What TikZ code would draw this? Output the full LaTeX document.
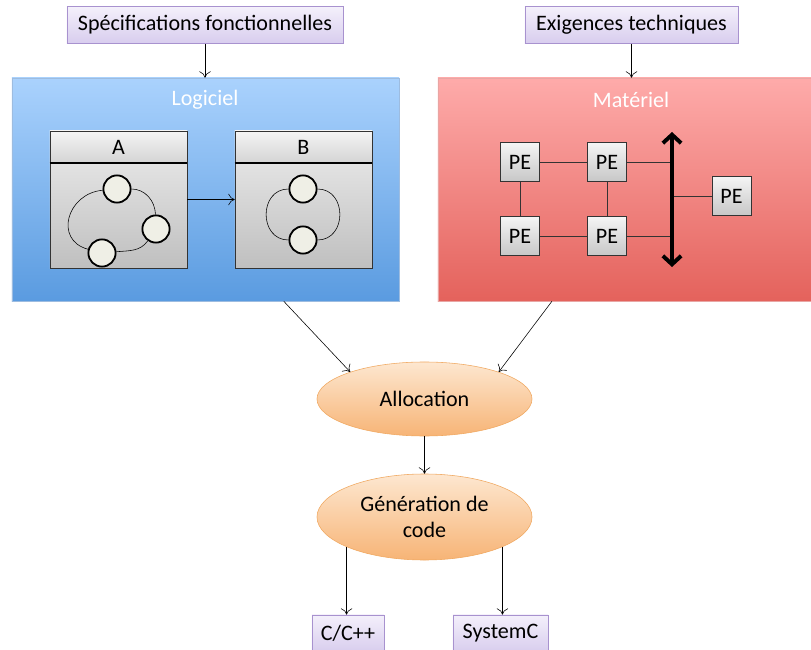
\documentclass[tikz,border=0pt]{standalone}
\usepackage{fontspec}
\setmainfont{Carlito}
\usetikzlibrary{arrows.meta, shapes.geometric}

\definecolor{specfill1}{HTML}{F4F0FB}
\definecolor{specfill2}{HTML}{D8CDEE}
\definecolor{specline}{HTML}{A892CF}
\definecolor{logtop}{HTML}{AAD2FD}
\definecolor{logbot}{HTML}{5A9BE0}
\definecolor{logline}{HTML}{9DBCE0}
\definecolor{mattop}{HTML}{FEABAA}
\definecolor{matbot}{HTML}{E4625C}
\definecolor{matline}{HTML}{E8A6A4}
\definecolor{ovaltop}{HTML}{FDE7D0}
\definecolor{ovalbot}{HTML}{F7B476}
\definecolor{ovalline}{HTML}{F0A860}
\definecolor{dotfill}{HTML}{EFEFE6}

\begin{document}
\begin{tikzpicture}[
        x=0.025cm, y=-0.025cm,
        font=\fontsize{15.7}{18}\selectfont,
        spec/.style={draw=specline, top color=specfill1, bottom color=specfill2, minimum height=0.925cm, inner sep=0pt},
        block/.style={draw=#1line, top color=#1top, bottom color=#1bot, minimum width=9.675cm, minimum height=5.575cm},
        blocktitle/.style={text=white},
        comp/.style={draw=black!80, top color=black!7, bottom color=black!25, minimum width=3.425cm, minimum height=3.425cm},
        comphead/.style={draw=black!80, top color=black!4, bottom color=black!17, minimum width=3.425cm, minimum height=0.8cm},
        dot/.style={circle, draw=black, line width=1.3pt, fill=dotfill, minimum size=0.68cm, inner sep=0pt},
        pe/.style={draw=black!80, top color=black!4, bottom color=black!22, minimum size=0.98cm, inner sep=0pt},
        oval/.style={ellipse, draw=ovalline, top color=ovaltop, bottom color=ovalbot, minimum width=5.375cm, inner sep=1pt, align=center},
        arr/.style={-{To[length=4.5pt,width=8pt]}, black},
        wire/.style={black!80, line width=0.6pt}
    ]
        \useasboundingbox (0,0) rectangle (811,650);

        \node[spec, minimum width=6.9cm] (specf) at (205,25) {Spécifications fonctionnelles};
        \node[spec, minimum width=5.325cm] (exig) at (631.5,25) {Exigences techniques};

        \node[block=log] (log) at (205.5,189.5) {};
        \node[block=mat, minimum width=9.325cm] (mat) at (624.5,189.5) {};
        \node[blocktitle] (logt) at (205,100) {Logiciel};
        \node[blocktitle] (matt) at (631,100) {Matériel};

        \draw[arr] (specf) -- (specf |- log.north);
        \draw[arr] (exig) -- (exig |- mat.north);

        % composants A et B
        \node[comp] (A) at (118.5,199.5) {};
        \node[comphead] (Ahead) at (118.5,147) {A};
        \draw[line width=1.4pt] (Ahead.south west) -- (Ahead.south east);
        \node[comp] (B) at (303.5,199.5) {};
        \node[comphead] (Bhead) at (303.5,147) {B};
        \draw[line width=1.4pt] (Bhead.south west) -- (Bhead.south east);
        \draw[arr] (A.east) -- (B.west);

        \node[dot] (a1) at (117,189) {};
        \node[dot] (a2) at (156,229) {};
        \node[dot] (a3) at (102,253) {};
        \draw (a1) to[out=0, in=92] (a2);
        \draw (a2) to[out=235, in=5] (a3);
        \draw (a3) to[out=165, in=185, looseness=1.5] (a1);

        \node[dot] (b1) at (303,189) {};
        \node[dot] (b2) at (303,240) {};
        \draw (b1) to[out=180, in=180, looseness=1.5] (b2);
        \draw (b1) to[out=0, in=0, looseness=1.5] (b2);

        % processeurs
        \node[pe] (pe1) at (520,162) {PE};
        \node[pe] (pe2) at (607,162) {PE};
        \node[pe] (pe3) at (520,236) {PE};
        \node[pe] (pe4) at (607,236) {PE};
        \node[pe] (pe5) at (731.5,196) {PE};
        \coordinate (bustop) at (672,132);
        \coordinate (busbot) at (672,267);

        \draw[wire] (pe1) -- (pe2);
        \draw[wire] (pe3) -- (pe4);
        \draw[wire] (pe1) -- (pe3);
        \draw[wire] (pe2) -- (pe4);
        \draw[wire] (pe2) -- (pe2 -| bustop);
        \draw[wire] (pe4) -- (pe4 -| bustop);
        \draw[wire] (pe5) -- (pe5 -| bustop);
        \draw[line width=2.8pt, {Straight Barb[length=6pt,width=13pt]}-{Straight Barb[length=6pt,width=13pt]}] (bustop) -- (busbot);

        \node[oval, minimum height=1.85cm] (alloc) at (424.5,399) {Allocation};
        \node[oval, minimum height=2.15cm] (gen) at (424.5,517) {Génération de\\code};
        \draw[arr] (log.-55) -- (alloc.160);
        \draw[arr] (mat.-123) -- (alloc.20);
        \draw[arr] (alloc) -- (gen);

        \node[spec, minimum width=1.8cm] (cpp) at (348,633.5) {C/C++};
        \node[spec, minimum width=2.375cm] (sysc) at (500.5,633.5) {SystemC};
        \draw[arr] (gen.201.5) -- (gen.201.5 |- cpp.north);
        \draw[arr] (gen.-21.3) -- (gen.-21.3 |- sysc.north);
    \end{tikzpicture}
\end{document}
